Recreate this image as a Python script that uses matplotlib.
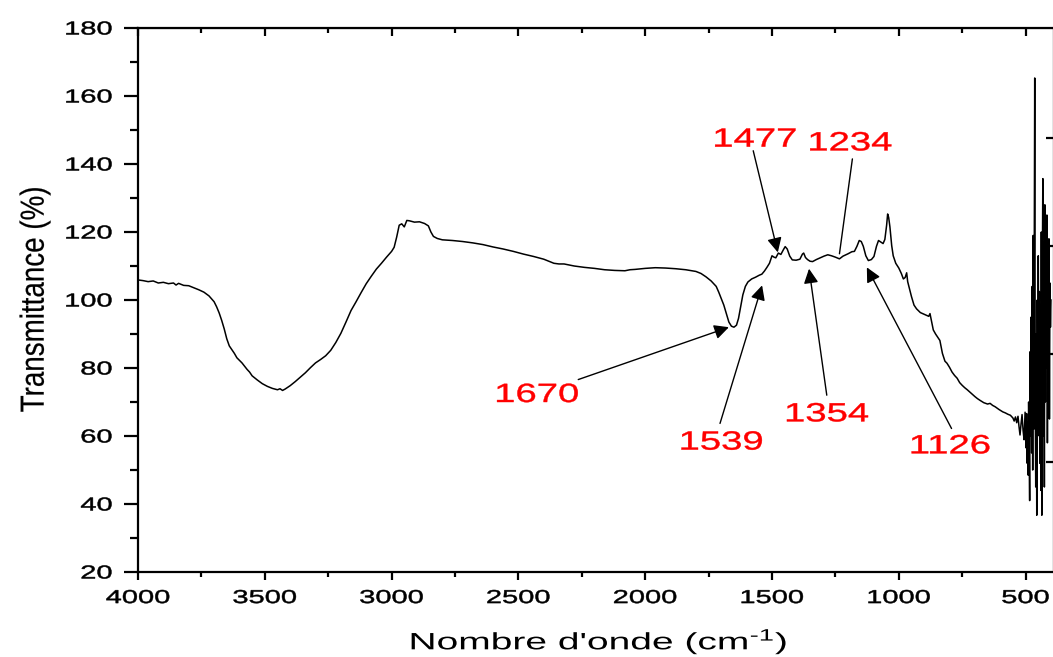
import matplotlib
matplotlib.use("Agg")
import matplotlib.pyplot as plt
from matplotlib.patheffects import AbstractPathEffect
from matplotlib.ticker import MultipleLocator
from matplotlib.transforms import Affine2D

plt.rcParams["font.family"] = ["Liberation Sans", "DejaVu Sans"]
plt.rcParams["mathtext.fontset"] = "custom"
plt.rcParams["mathtext.rm"] = "Liberation Sans"
plt.rcParams["mathtext.it"] = "Liberation Sans:italic"
plt.rcParams["mathtext.bf"] = "Liberation Sans:bold"
plt.rcParams["mathtext.default"] = "regular"

# FTIR spectrum: wavenumber (cm-1) and transmittance (%)
wavenumber = [
    4000, 3980, 3960, 3940, 3920, 3900, 3880, 3860, 3850, 3840, 3820, 3800,
    3780, 3760, 3740, 3720, 3700, 3690, 3680, 3670, 3660, 3650, 3640, 3630,
    3620, 3610, 3590, 3570, 3560, 3550, 3530, 3510, 3490, 3470, 3450, 3440,
    3430, 3420, 3400, 3380, 3360, 3340, 3320, 3300, 3280, 3260, 3240, 3220,
    3200, 3180, 3160, 3140, 3120, 3100, 3080, 3060, 3040, 3020, 3000, 2990,
    2980, 2970, 2960, 2950, 2940, 2930, 2910, 2890, 2870, 2855, 2845, 2835,
    2820, 2800, 2760, 2720, 2680, 2640, 2600, 2560, 2520, 2480, 2440, 2400,
    2380, 2360, 2340, 2320, 2280, 2240, 2200, 2160, 2120, 2080, 2060, 2040,
    2000, 1960, 1920, 1880, 1840, 1800, 1780, 1760, 1740, 1720, 1710, 1700,
    1690, 1680, 1670, 1660, 1650, 1640, 1632, 1625, 1615, 1605, 1595, 1580,
    1565, 1550, 1540, 1530, 1520, 1510, 1500, 1492, 1485, 1475, 1465, 1455,
    1448, 1440, 1430, 1420, 1405, 1390, 1380, 1375, 1368, 1360, 1350, 1340,
    1325, 1310, 1295, 1280, 1265, 1250, 1234, 1220, 1200, 1185, 1175, 1165,
    1156, 1148, 1140, 1130, 1120, 1108, 1098, 1088, 1080, 1070, 1062, 1055,
    1048, 1044, 1040, 1035, 1028, 1022, 1012, 1000, 990, 982, 975, 969,
    965, 958, 950, 940, 930, 915, 900, 882, 877, 870, 864, 855,
    845, 838, 828, 818, 810, 800, 790, 780, 770, 760, 750, 740,
    730, 715, 700, 690, 680, 665, 650, 640, 630, 620, 605, 590,
    580, 570, 560, 550, 545, 540, 535, 530, 526, 522, 518, 514,
    510, 506, 502, 500, 498, 496, 494, 492, 490, 488, 486, 484,
    482, 480, 478, 476, 474, 472, 470, 468, 466, 464, 462, 460,
    458, 456, 454, 452, 450, 448, 446, 444, 442, 440, 438, 436,
    434, 432, 430, 428, 426, 424, 422, 420, 418, 416, 414, 412,
    410, 408, 406, 404, 402, 400,
]
transmittance = [
    105.9, 105.7, 105.4, 105.6, 105.0, 105.2, 104.8, 105.0, 104.4, 104.9, 104.3, 104.2,
    103.6, 103.0, 102.3, 101.2, 99.5, 98.0, 96.2, 94.0, 91.5, 88.6, 86.5, 85.4,
    84.3, 83.0, 81.5, 79.6, 78.8, 77.7, 76.5, 75.4, 74.6, 74.0, 73.6, 73.9,
    73.4, 73.8, 74.8, 76.0, 77.3, 78.6, 80.1, 81.5, 82.5, 83.6, 85.2, 87.5,
    90.2, 93.5, 96.9, 99.5, 102.2, 104.8, 107.0, 109.1, 110.8, 112.6, 114.3, 115.5,
    118.5, 122.0, 122.4, 121.5, 123.4, 123.3, 122.9, 123.0, 122.5, 121.8, 120.0, 118.7,
    118.1, 117.7, 117.5, 117.2, 116.8, 116.3, 115.6, 115.0, 114.3, 113.5, 112.8, 112.0,
    111.4, 110.8, 110.6, 110.6, 110.0, 109.6, 109.3, 108.9, 108.7, 108.6, 108.9, 109.0,
    109.3, 109.5, 109.4, 109.2, 108.9, 108.4, 107.8, 106.8, 105.6, 104.0, 102.3, 100.4,
    98.5, 96.0, 93.5, 92.3, 92.0, 92.6, 94.6, 97.5, 101.5, 104.0, 105.3, 106.2,
    106.7, 107.3, 107.6, 108.5, 109.6, 110.8, 113.0, 112.6, 112.4, 113.8, 113.4, 114.8,
    115.7, 115.0, 112.9, 111.8, 111.7, 112.0, 113.5, 113.8, 112.5, 111.9, 111.4, 111.3,
    111.9, 112.4, 112.9, 113.3, 113.0, 112.6, 112.1, 112.9, 113.6, 114.2, 114.3, 115.8,
    117.5, 117.2, 115.8, 113.0, 111.6, 111.9, 112.8, 115.8, 117.5, 117.0, 116.6, 117.8,
    122.0, 125.3, 124.3, 121.5, 116.0, 113.0, 110.8, 109.4, 107.8, 106.2, 106.6, 108.0,
    105.4, 103.3, 101.0, 98.5, 97.4, 96.3, 95.8, 95.2, 96.0, 93.5, 91.2, 90.0,
    88.9, 88.1, 84.3, 82.0, 81.4, 80.2, 78.8, 77.8, 77.0, 75.7, 74.9, 74.2,
    73.6, 72.6, 71.6, 71.0, 70.5, 69.8, 69.4, 69.6, 69.0, 68.6, 67.8, 67.1,
    66.8, 66.4, 66.1, 65.3, 64.4, 65.6, 63.9, 65.8, 62.8, 60.3, 63.5, 66.3,
    61.7, 58.9, 67.0, 62.0, 56.5, 66.6, 52.0, 64.0, 48.5, 70.0, 57.0, 41.0,
    84.8, 60.0, 95.0, 55.0, 104.0, 50.0, 119.0, 62.0, 108.0, 165.3, 70.0, 45.0,
    90.0, 36.7, 100.0, 60.0, 113.0, 73.0, 102.5, 52.0, 96.0, 44.0, 120.0, 36.7,
    109.0, 135.7, 60.0, 117.0, 45.0, 128.0, 70.0, 122.0, 80.0, 125.0, 58.0, 110.0,
    88.0, 118.0, 65.0, 105.0, 92.0, 100.0,
]

# Labelled bands and where each arrow points on the curve
peak_labels = ["1670", "1539", "1477", "1354", "1234", "1126"]
peak_wn = [1670, 1539, 1477, 1354, 1234, 1126]
peak_tip = [92.0, 104.3, 114.0, 109.2, 113.6, 109.6]

# Label anchor (baseline centre) and arrow tail for each band
label_xy = [(2427, 70.0), (1700, 56.0), (1567, 145.1),
            (1284, 64.3), (1192, 144.0), (798, 54.9)]
tail_xy = [(2264, 76.6), (1705, 63.7), (1574, 143.9),
           (1284, 72.0), (1183, 141.5), (792, 62.2)]
arrow_head = [True, True, True, True, False, True]

# Extra inward ticks on the right-hand frame
right_ticks = [52.3, 84.1, 115.8, 147.7]


class Widen(AbstractPathEffect):
    """Scale glyph outlines in the text's own frame about an anchor,
    optionally thickening them with an outline stroke."""

    def __init__(self, sx=1.0, sy=1.0, anchor="center", stroke=0.0):
        super().__init__()
        self.sx, self.sy, self.anchor, self.stroke = sx, sy, anchor, stroke

    def draw_path(self, renderer, gc, tpath, affine, rgbFace=None):
        ext = tpath.get_extents()
        if self.anchor == "right":
            x0 = ext.x1
        elif self.anchor == "left":
            x0 = ext.x0
        else:
            x0 = (ext.x0 + ext.x1) / 2
        y0 = (ext.y0 + ext.y1) / 2
        t = Affine2D().translate(-x0, -y0).scale(self.sx, self.sy).translate(x0, y0)
        gc0 = renderer.new_gc()
        gc0.copy_properties(gc)
        if self.stroke and rgbFace is not None:
            gc0.set_linewidth(self.stroke)
            gc0.set_foreground(rgbFace)
        renderer.draw_path(gc0, tpath, t + affine, rgbFace)
        gc0.restore()


fig = plt.figure(figsize=(10.53, 6.57), dpi=100)
ax = fig.add_axes([138 / 1053, 85 / 657, 916 / 1053, 544 / 657])

ax.plot(wavenumber, transmittance, color="black", lw=1.1)

ax.set_xlim(4000, 388)
ax.set_ylim(20, 180)
ax.set_xticks(range(4000, 499, -500))
ax.xaxis.set_minor_locator(MultipleLocator(250))
ax.set_yticks(range(20, 181, 20))
ax.yaxis.set_minor_locator(MultipleLocator(10))

for sp in ax.spines.values():
    sp.set_linewidth(1.6)
ax.tick_params(axis="x", which="major", direction="out", length=6, width=1.6,
               pad=7, labelsize=13.5)
ax.tick_params(axis="x", which="minor", direction="out", length=3.5, width=1.6)
ax.tick_params(axis="y", which="major", direction="out", length=10, width=1.6,
               pad=8.5, labelsize=13.5)
ax.tick_params(axis="y", which="minor", direction="out", length=6, width=1.6)

# Mirror ticks along the top, pointing inward
top = ax.secondary_xaxis("top")
top.set_xticks(range(4000, 499, -500))
top.xaxis.set_minor_locator(MultipleLocator(250))
top.tick_params(which="major", direction="in", length=6, width=1.6, labeltop=False)
top.tick_params(which="minor", direction="in", length=3.5, width=1.6)

right = ax.secondary_yaxis("right")
right.set_yticks(right_ticks)
right.tick_params(direction="in", length=6, width=1.6, labelright=False)

plt.setp(ax.get_xticklabels(), path_effects=[Widen(sx=1.55, stroke=0.35)])
plt.setp(ax.get_yticklabels(),
         path_effects=[Widen(sx=1.55, anchor="right", stroke=0.35)])

ax.set_xlabel(r"Nombre d'onde (cm$^{\text{-}1}$)", fontsize=17,
              path_effects=[Widen(sx=1.65)])
ax.xaxis.set_label_coords(0.503, -0.1)
ax.set_ylabel("Transmittance (%)", fontsize=20,
              path_effects=[Widen(sy=1.2, stroke=0.15)])
ax.yaxis.set_label_coords(-0.098, 0.501)

for text, wn, tip, lxy, txy, head in zip(peak_labels, peak_wn, peak_tip,
                                         label_xy, tail_xy, arrow_head):
    ax.text(lxy[0], lxy[1], text, color="red", fontsize=19, ha="center",
            va="baseline", path_effects=[Widen(sx=1.45, stroke=0.3)])
    style = "-|>" if head else "-"
    ax.annotate("", xy=(wn, tip), xytext=txy,
                arrowprops=dict(arrowstyle=style, color="black", lw=1.0,
                                mutation_scale=22, shrinkA=0, shrinkB=0))

fig.savefig("out.png", dpi=100)
